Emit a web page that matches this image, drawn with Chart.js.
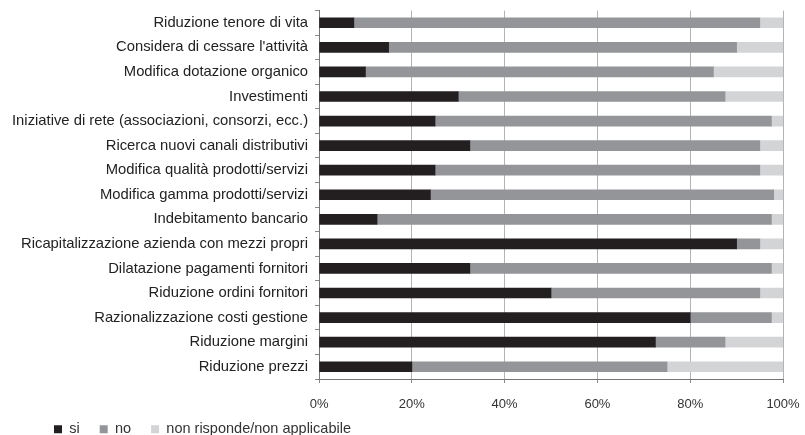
<!DOCTYPE html>
<html>
<head>
<meta charset="utf-8">
<script src="https://cdn.jsdelivr.net/npm/chart.js@4"></script>
<style>
  html, body { margin: 0; padding: 0; background: #fff; }
  #wrap { width: 805px; height: 435px; }
</style>
</head>
<body>
<div id="wrap"><canvas id="chart"></canvas></div>
<script>
const categories = [
    'Riduzione tenore di vita',
    "Considera di cessare l'attività",
    'Modifica dotazione organico',
    'Investimenti',
    'Iniziative di rete (associazioni, consorzi, ecc.)',
    'Ricerca nuovi canali distributivi',
    'Modifica qualità prodotti/servizi',
    'Modifica gamma prodotti/servizi',
    'Indebitamento bancario',
    'Ricapitalizzazione azienda con mezzi propri',
    'Dilatazione pagamenti fornitori',
    'Riduzione ordini fornitori',
    'Razionalizzazione costi gestione',
    'Riduzione margini',
    'Riduzione prezzi'
];
const si = [7.5, 15, 10, 30, 25, 32.5, 25, 24, 12.5, 90, 32.5, 50, 80, 72.5, 20];
const no = [87.5, 75, 75, 57.5, 72.5, 62.5, 70, 74, 85, 5, 65, 45, 17.5, 15, 55];
const nonRisponde = [5, 10, 15, 12.5, 2.5, 5, 5, 2, 2.5, 5, 2.5, 5, 2.5, 12.5, 25];
const xTicks = [0, 20, 40, 60, 80, 100];

// move the legend to where the original has it
const legendPlace = {
    id: 'legendPlace',
    beforeDraw: (chart) => {
        const legend = chart.legend;
        if (legend) {
            const w = legend.right - legend.left;
            legend.left = 34;
            legend.right = 34 + w;
            legend.top = chart.height - 33;
        }
    }
};

const config = {
    type: 'bar',
    data: {
        labels: categories,
        datasets: [
            { label: 'si', data: si, backgroundColor: '#231f20' },
            { label: 'no', data: no, backgroundColor: '#939598' },
            { label: 'non risponde/non applicabile', data: nonRisponde, backgroundColor: '#d3d4d6' }
        ]
    },
    options: {
        indexAxis: 'y',
        responsive: true,
        maintainAspectRatio: false,
        animation: false,
        datasets: {
            bar: { barThickness: 10 }
        },
        layout: {
            padding: { top: 10.5, right: 22, left: 5, bottom: 0 }
        },
        scales: {
            x: {
                stacked: true,
                min: 0,
                max: 100,
                afterBuildTicks: (axis) => {
                    axis.ticks = xTicks.map(v => ({ value: v }));
                },
                afterFit: (scale) => {
                    scale.height = 34;
                    scale.paddingLeft = 0;
                    scale.paddingRight = 0;
                },
                ticks: {
                    callback: (v) => v + '%',
                    color: '#333',
                    padding: 14,
                    font: { family: 'Liberation Sans, Arial', size: 13 }
                },
                grid: {
                    color: '#b4b4b4',
                    lineWidth: 1,
                    tickLength: 4,
                    tickColor: '#888'
                },
                border: { color: '#777', width: 1 }
            },
            y: {
                stacked: true,
                afterFit: (scale) => {
                    scale.paddingTop = 0;
                    scale.paddingBottom = 0;
                },
                ticks: {
                    color: '#222',
                    padding: 7,
                    font: { family: 'Liberation Sans, Arial', size: 14.8 }
                },
                grid: {
                    drawOnChartArea: false,
                    offset: true,
                    tickLength: 4,
                    tickColor: '#888'
                },
                border: { color: '#777', width: 1 }
            }
        },
        plugins: {
            legend: {
                position: 'bottom',
                align: 'start',
                maxHeight: 22,
                labels: {
                    boxWidth: 8,
                    boxHeight: 8,
                    padding: 20,
                    color: '#333',
                    font: { family: 'Liberation Sans, Arial', size: 14.5 }
                }
            },
            tooltip: { enabled: false }
        }
    },
    plugins: [legendPlace]
};

new Chart(document.getElementById('chart'), config);
</script>
</body>
</html>
